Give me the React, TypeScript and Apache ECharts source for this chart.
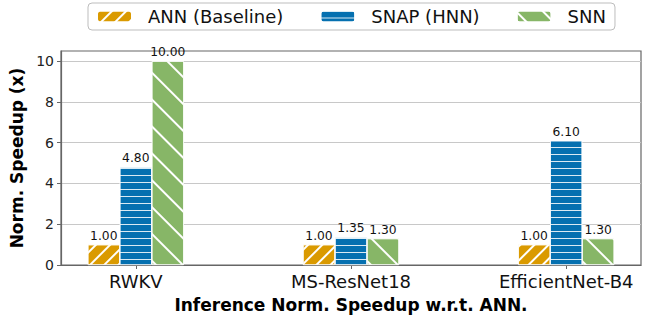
import React, { useEffect, useRef } from "react";
import * as echarts from "echarts";

const categories = ["RWKV", "MS-ResNet18", "EfficientNet-B4"];
const seriesNames = ["ANN (Baseline)", "SNAP (HNN)", "SNN"];
const annValues = [1.0, 1.0, 1.0];
const snapValues = [4.8, 1.35, 6.1];
const snnValues = [10.0, 1.3, 1.3];
const yTicks = [0, 2, 4, 6, 8, 10];

const colors = ["#DA9A00", "#0570B0", "#87B667"];

const FONT = "DejaVu Sans";

export default function App() {
  const ref = useRef<HTMLDivElement>(null);
  useEffect(() => {
    if (!ref.current) return;
    const chart = echarts.init(ref.current, undefined, { renderer: "svg" });
    const toData = (vals: number[]) => vals.map((v, i) => [i, v]);
    const decals = [
      { symbol: "rect", symbolSize: 1, dashArrayX: [1, 0], dashArrayY: [1.2, 7.6], rotation: -Math.PI / 4, color: "#ffffff" },
      { symbol: "rect", symbolSize: 1, dashArrayX: [1, 0], dashArrayY: [1, 5.2], rotation: 0, color: "rgba(255,255,255,0.85)" },
      { symbol: "rect", symbolSize: 1, dashArrayX: [1, 0], dashArrayY: [1.2, 16.5], rotation: Math.PI / 4, color: "#ffffff" },
    ];
    const allVals = [annValues, snapValues, snnValues];
    chart.setOption({
      animation: false,
      textStyle: { fontFamily: FONT },
      legend: {
        top: 3,
        left: 88,
        itemWidth: 35,
        itemHeight: 12,
        itemGap: 36,
        padding: [4.5, 9, 4.5, 8],
        borderColor: "#bdbdbd",
        borderWidth: 1,
        borderRadius: 4,
        textStyle: { fontSize: 18, color: "#111", fontFamily: FONT, padding: [0, 0, 0, 11] },
        data: seriesNames,
      },
      grid: {
        left: 61,
        right: 14,
        top: 51,
        bottom: 50,
        show: true,
        borderColor: "#666",
        borderWidth: 1.2,
        backgroundColor: "transparent",
      },
      xAxis: {
        type: "value",
        min: -0.3475,
        max: 2.3475,
        axisLine: { show: true, onZero: false, lineStyle: { color: "#666", width: 1.2 } },
        splitLine: { show: false },
        axisTick: { show: true, customValues: [0, 1, 2], length: 4, lineStyle: { color: "#666" } },
        axisLabel: {
          customValues: [0, 1, 2],
          formatter: (v: number) => categories[Math.round(v)] ?? "",
          fontSize: 18,
          color: "#111",
          margin: 7,
          fontFamily: FONT,
        },
        name: "Inference Norm. Speedup w.r.t. ANN.",
        nameLocation: "middle",
        nameGap: 31,
        nameTextStyle: { fontSize: 17, fontWeight: "bold", color: "#000", fontFamily: FONT },
      },
      yAxis: {
        type: "value",
        min: 0,
        max: 10.5,
        interval: 2,
        axisLine: { show: true, onZero: false, lineStyle: { color: "#666", width: 1.2 } },
        axisTick: { show: true, customValues: yTicks, length: 4, lineStyle: { color: "#666" } },
        axisLabel: {
          customValues: yTicks,
          fontSize: 14,
          color: "#222",
          margin: 7,
          fontFamily: FONT,
        },
        splitLine: { show: true, lineStyle: { color: "#c8c8c8", width: 1 } },
        name: "Norm. Speedup (x)",
        nameLocation: "middle",
        nameGap: 22,
        nameTextStyle: { fontSize: 17, fontWeight: "bold", color: "#000", fontFamily: FONT },
      },
      series: seriesNames.map((name, si) => ({
        name,
        type: "bar",
        data: toData(allVals[si]),
        barWidth: 32,
        barGap: "0%",
        itemStyle: {
          color: colors[si],
          borderColor: "#ffffff",
          borderWidth: 0.6,
          decal: decals[si],
        },
        label: {
          show: true,
          position: "top",
          distance: 3,
          formatter: (p: any) => Number(p.value[1]).toFixed(2),
          fontSize: 12.3,
          color: "#111",
          fontFamily: FONT,
        },
      })),
    });
    return () => chart.dispose();
  }, []);
  return (
    <div
      ref={ref}
      style={{ position: "absolute", left: 0, top: 0, width: 655, height: 318 }}
    />
  );
}
